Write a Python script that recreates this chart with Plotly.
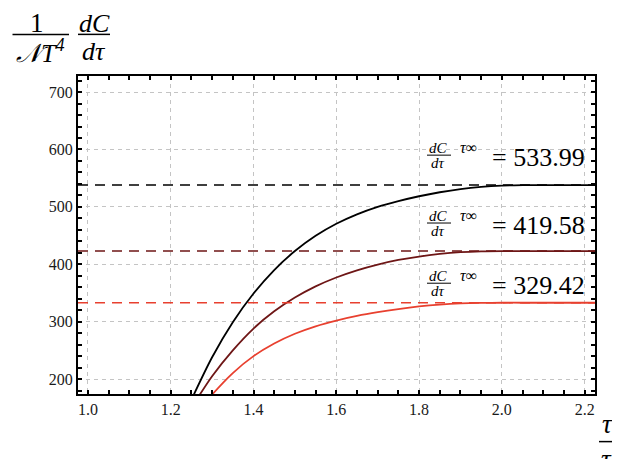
import plotly.graph_objects as go

# ---- data ----
tau_black = [1.25, 1.30, 1.35, 1.40, 1.45, 1.50, 1.55, 1.60, 1.65, 1.70, 1.75, 1.80,
             1.85, 1.90, 1.95, 2.00, 2.05, 2.10, 2.15, 2.20, 2.23]
val_black = [164, 238, 299, 349, 390, 423, 449.5, 470.5, 487, 500, 510, 518.5,
             525.5, 531, 534.8, 537, 537.8, 538, 538, 538, 538]

tau_dark = [1.25, 1.30, 1.35, 1.40, 1.45, 1.50, 1.55, 1.60, 1.65, 1.70, 1.75, 1.80,
            1.85, 1.90, 1.95, 2.00, 2.05, 2.10, 2.15, 2.20, 2.23]
val_dark = [150, 205, 250, 288, 318, 342, 361.5, 377, 389.5, 399.5, 407.5, 413.5,
            418, 421, 422.5, 423, 423, 423, 423, 423, 423]

tau_red = [1.25, 1.30, 1.35, 1.40, 1.45, 1.50, 1.55, 1.60, 1.65, 1.70, 1.75, 1.80,
           1.85, 1.90, 1.95, 2.00, 2.05, 2.10, 2.15, 2.20, 2.23]
val_red = [130, 173, 210.5, 240, 262, 279, 292, 302, 310, 316.5, 322, 326.5,
           329.8, 331.8, 332.7, 333, 333, 333, 333, 333, 333]

asymptotes = [538, 423, 333]
asym_labels = ["533.99", "419.58", "329.42"]
colors = ["#000000", "#6e1616", "#e8402f"]

x_ticks = [1.0, 1.2, 1.4, 1.6, 1.8, 2.0, 2.2]
y_ticks = [200, 300, 400, 500, 600, 700]

# ---- geometry (pixels in the screenshot; page body adds an 8px offset) ----
OFF = 8
W, H = 620 - OFF, 459 - OFF
L, R, T, B = 78, 595, 75.7, 394.3
PW, PH = R - L, B - T


def px(x):
    return (x - L) / PW


def py(y):
    return (B - y) / PH


fig = go.Figure()

series = [(tau_black, val_black), (tau_dark, val_dark), (tau_red, val_red)]
for (tx, vy), col in zip(series, colors):
    fig.add_trace(go.Scatter(x=tx, y=vy, mode="lines",
                             line=dict(color=col, width=1.8, shape="spline", smoothing=0.8),
                             hoverinfo="skip", showlegend=False))

for a, col in zip(asymptotes, colors):
    fig.add_trace(go.Scatter(x=[0.976, 2.225], y=[a, a], mode="lines",
                             line=dict(color=col, width=1.6, dash="10px,7px"),
                             hoverinfo="skip", showlegend=False))

serif = "Liberation Serif, DejaVu Serif, Times New Roman, serif"
ann = []
shapes = []


def text(x, y, t, size, italic=False):
    if italic:
        t = "<i>" + t + "</i>"
    ann.append(dict(x=px(x), y=py(y), xref="paper", yref="paper", text=t, showarrow=False,
                    xanchor="center", yanchor="middle",
                    font=dict(family=serif, size=size, color="black")))


def bar(x0, x1, y, w=1.3):
    shapes.append(dict(type="line", xref="paper", yref="paper", x0=px(x0), x1=px(x1),
                       y0=py(y), y1=py(y), line=dict(color="black", width=w)))


# y-axis title: 1/(N T^4) dC/dtau
text(37, 23, "1", 27)
bar(12.5, 69, 34, 1.5)
text(40, 51, "𝒩T<sup>4</sup>", 26, italic=True)
text(94, 23, "dC", 26, italic=True)
bar(78, 110, 34, 1.5)
text(94, 51, "dτ", 26, italic=True)

# x-axis title: tau / tau_c
text(607, 424, "τ", 27, italic=True)
bar(599, 620, 442, 1.5)
text(610, 461, "τ<sub>c</sub>", 27, italic=True)

# asymptote labels
bar_ys = [155, 223, 283.3]
for lab, by in zip(asym_labels, bar_ys):
    text(438, by - 7, "dC", 15, italic=True)
    bar(427, 451, by, 1.0)
    text(438, by + 8, "dτ", 15, italic=True)
    text(468, by - 8, "<i>τ</i>∞", 16)
    text(538, by + 2.5, "= " + lab, 26)

fig.update_layout(
    width=W, height=H,
    margin=dict(l=L - OFF, r=W - (R - OFF), t=T - OFF, b=H - (B - OFF), pad=0),
    paper_bgcolor="white", plot_bgcolor="white",
    annotations=ann, shapes=shapes,
    showlegend=False,
)

axis_common = dict(
    showline=True, linecolor="black", linewidth=2.2, mirror="allticks",
    ticks="inside", ticklen=4, tickwidth=2, tickcolor="black",
    showgrid=True, gridcolor="#c4c4c4", gridwidth=1, griddash="4px,4px",
    zeroline=False,
    tickfont=dict(family=serif, size=16, color="#1a1a1a"),
)

fig.update_xaxes(range=[0.976, 2.225], tickvals=x_ticks, ticktext=[f"{v:.1f}" for v in x_ticks],
                 minor=dict(dtick=0.05, tick0=1.0, ticks="inside", ticklen=4, tickwidth=2,
                            tickcolor="black", showgrid=False),
                 **axis_common)
fig.update_yaxes(range=[174, 728], tickvals=y_ticks, ticktext=[str(v) for v in y_ticks],
                 minor=dict(dtick=20, tick0=0, ticks="inside", ticklen=4, tickwidth=2,
                            tickcolor="black", showgrid=False),
                 **axis_common)

fig.write_html("out.html")
